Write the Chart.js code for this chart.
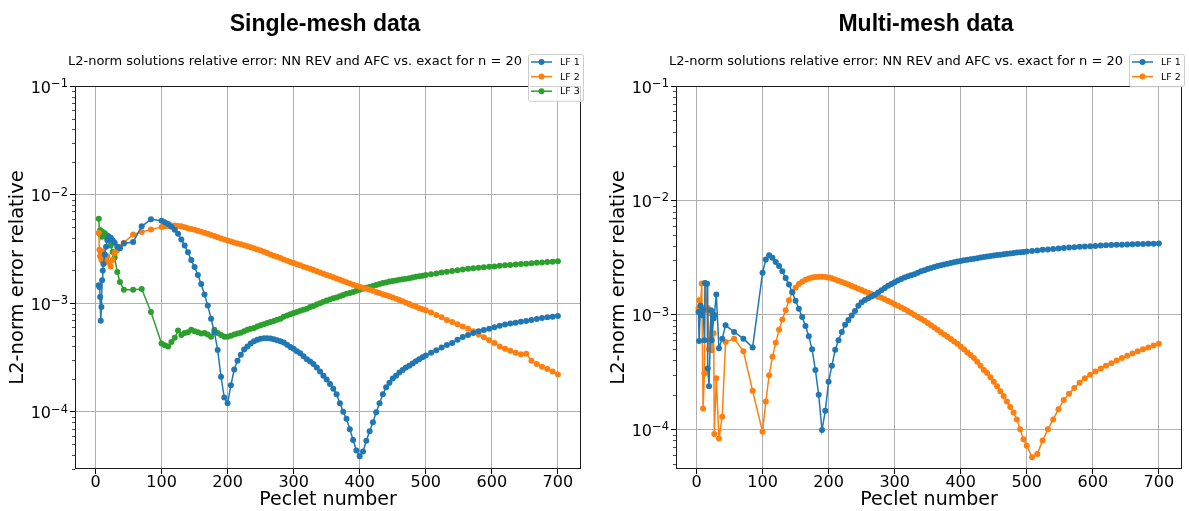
<!DOCTYPE html>
<html>
<head>
<meta charset="utf-8">
<title>L2-norm relative error vs Peclet number</title>
<script src="https://cdn.jsdelivr.net/npm/chart.js@4.4.1/dist/chart.umd.min.js"></script>
<style>
  html, body { margin: 0; padding: 0; background: #fff; }
  #wrap { position: relative; width: 1189px; height: 511px; overflow: hidden; }
  .panel { position: absolute; top: 0; }
</style>
</head>
<body>
<div id="wrap">
  <canvas id="single" class="panel" width="594" height="511" style="left:0"></canvas>
  <canvas id="multi" class="panel" width="588" height="511" style="left:601px"></canvas>
</div>
<script>
/* ---------------------------------------------------------------- */
/* DATA                                                              */
/* ---------------------------------------------------------------- */

    var xTicks  = [0, 100, 200, 300, 400, 500, 600, 700];
    var yDecades = [1e-5, 1e-4, 1e-3, 1e-2, 1e-1];
    var seriesLabels = ['LF 1', 'LF 2', 'LF 3'];
    var seriesColors = ['#1f77b4', '#ff7f0e', '#2ca02c'];

    // single-mesh runs
    var peSingle = [
        5, 6, 7, 8, 9, 10, 11, 12, 14, 16, 18, 20, 23, 26, 29, 33, 37, 43, 57, 70, 84,
        100, 105, 110, 115, 120, 125, 130, 135, 140, 145,
        150, 155, 160, 165, 170, 175, 180, 185, 190, 195,
        200, 205, 210, 215, 220, 225, 230, 235, 240, 245,
        250, 255, 260, 265, 270, 275, 280, 285, 290, 295,
        300, 305, 310, 315, 320, 325, 330, 335, 340, 345,
        350, 355, 360, 365, 370, 375, 380, 385, 390, 395,
        400, 405, 410, 415, 420, 425, 430, 435, 440, 445,
        450, 455, 460, 465, 470, 475, 480, 485, 490, 495,
        500, 508, 516, 524, 532, 540, 548, 556, 564, 572, 580,
        588, 596, 604, 612, 620, 628, 636, 644, 652, 660,
        668, 676, 684, 692, 700
    ];
    var errSingleLF1 = [
        1.46e-3, 1.41e-3, 1.14e-3, 6.9e-4, 9.2e-4, 1.63e-3, 2.0e-3, 2.3e-3, 2.8e-3, 3.3e-3, 3.8e-3, 4.1e-3, 4.0e-3, 3.8e-3, 3.6e-3, 3.3e-3, 3.2e-3, 3.54e-3, 3.66e-3, 5.1e-3, 5.93e-3,
        5.75e-3, 5.55e-3, 5.35e-3, 5.05e-3, 4.75e-3, 4.35e-3, 3.85e-3, 3.4e-3, 2.95e-3, 2.5e-3,
        2.15e-3, 1.82e-3, 1.5e-3, 1.2e-3, 9.5e-4, 7.2e-4, 5.4e-4, 3.7e-4, 2.1e-4, 1.35e-4,
        1.2e-4, 1.75e-4, 2.45e-4, 2.95e-4, 3.35e-4, 3.75e-4, 4.0e-4, 4.25e-4, 4.45e-4, 4.6e-4,
        4.7e-4, 4.75e-4, 4.75e-4, 4.72e-4, 4.65e-4, 4.55e-4, 4.45e-4, 4.35e-4, 4.15e-4, 3.95e-4,
        3.8e-4, 3.6e-4, 3.45e-4, 3.25e-4, 3.05e-4, 2.9e-4, 2.75e-4, 2.55e-4, 2.35e-4, 2.15e-4,
        1.98e-4, 1.8e-4, 1.63e-4, 1.45e-4, 1.2e-4, 1.0e-4, 8.6e-5, 6.9e-5, 5.5e-5, 4.4e-5,
        3.9e-5, 4.3e-5, 5.4e-5, 6.6e-5, 8.0e-5, 9.9e-5, 1.2e-4, 1.45e-4, 1.68e-4, 1.85e-4,
        2.02e-4, 2.15e-4, 2.3e-4, 2.42e-4, 2.55e-4, 2.65e-4, 2.78e-4, 2.92e-4, 3.05e-4, 3.18e-4,
        3.3e-4, 3.5e-4, 3.68e-4, 3.9e-4, 4.12e-4, 4.3e-4, 4.6e-4, 4.88e-4, 5.1e-4, 5.32e-4, 5.5e-4,
        5.65e-4, 5.8e-4, 6.0e-4, 6.2e-4, 6.35e-4, 6.5e-4, 6.6e-4, 6.75e-4, 6.86e-4, 7.0e-4,
        7.15e-4, 7.3e-4, 7.4e-4, 7.5e-4, 7.62e-4
    ];
    var errSingleLF2 = [
        4.46e-3, 3.1e-3, 2.7e-3, 2.9e-3, 2.5e-3, 3.0e-3, 2.6e-3, 2.4e-3, 2.7e-3, 2.5e-3, 2.7e-3, 2.35e-3, 2.18e-3, 2.5e-3, 2.9e-3, 3.07e-3, 3.3e-3, 3.61e-3, 4.29e-3, 4.53e-3, 4.76e-3,
        5.04e-3, 5.1e-3, 5.15e-3, 5.2e-3, 5.2e-3, 5.15e-3, 5.1e-3, 5.0e-3, 4.9e-3, 4.82e-3,
        4.75e-3, 4.65e-3, 4.55e-3, 4.45e-3, 4.35e-3, 4.25e-3, 4.15e-3, 4.05e-3, 3.95e-3, 3.85e-3,
        3.78e-3, 3.7e-3, 3.62e-3, 3.55e-3, 3.48e-3, 3.42e-3, 3.35e-3, 3.28e-3, 3.2e-3, 3.12e-3,
        3.05e-3, 2.97e-3, 2.89e-3, 2.81e-3, 2.74e-3, 2.67e-3, 2.6e-3, 2.53e-3, 2.46e-3, 2.4e-3,
        2.34e-3, 2.28e-3, 2.23e-3, 2.17e-3, 2.12e-3, 2.07e-3, 2.02e-3, 1.97e-3, 1.92e-3, 1.87e-3,
        1.82e-3, 1.78e-3, 1.73e-3, 1.69e-3, 1.64e-3, 1.6e-3, 1.56e-3, 1.52e-3, 1.48e-3, 1.45e-3,
        1.42e-3, 1.39e-3, 1.36e-3, 1.33e-3, 1.3e-3, 1.27e-3, 1.24e-3, 1.21e-3, 1.18e-3, 1.16e-3,
        1.13e-3, 1.1e-3, 1.07e-3, 1.04e-3, 1.01e-3, 9.8e-4, 9.5e-4, 9.3e-4, 9.0e-4, 8.8e-4,
        8.6e-4, 8.2e-4, 7.8e-4, 7.4e-4, 7.0e-4, 6.7e-4, 6.4e-4, 6.1e-4, 5.8e-4, 5.5e-4, 5.15e-4,
        4.85e-4, 4.55e-4, 4.3e-4, 4.0e-4, 3.8e-4, 3.65e-4, 3.5e-4, 3.38e-4, 3.43e-4, 2.95e-4,
        2.75e-4, 2.6e-4, 2.48e-4, 2.35e-4, 2.2e-4
    ];
    var errSingleLF3 = [
        6.0e-3, 4.4e-3, 4.7e-3, 4.3e-3, 4.6e-3, 4.1e-3, 4.5e-3, 4.3e-3, 4.4e-3, 4.1e-3, 4.2e-3, 3.9e-3, 3.4e-3, 2.96e-3, 2.63e-3, 1.94e-3, 1.57e-3, 1.33e-3, 1.33e-3, 1.35e-3, 8.3e-4,
        4.25e-4, 4.1e-4, 4.0e-4, 4.4e-4, 4.8e-4, 5.6e-4, 5.1e-4, 5.3e-4, 5.4e-4, 5.7e-4,
        5.5e-4, 5.4e-4, 5.25e-4, 5.3e-4, 5.15e-4, 4.9e-4, 5.7e-4, 5.3e-4, 5.1e-4, 4.9e-4,
        4.9e-4, 5.0e-4, 5.15e-4, 5.25e-4, 5.35e-4, 5.5e-4, 5.7e-4, 5.8e-4, 5.9e-4, 6.1e-4,
        6.27e-4, 6.4e-4, 6.55e-4, 6.7e-4, 6.85e-4, 7.05e-4, 7.2e-4, 7.5e-4, 7.7e-4, 7.9e-4,
        8.1e-4, 8.3e-4, 8.5e-4, 8.7e-4, 8.9e-4, 9.2e-4, 9.4e-4, 9.7e-4, 1.0e-3, 1.03e-3,
        1.06e-3, 1.08e-3, 1.11e-3, 1.13e-3, 1.16e-3, 1.19e-3, 1.22e-3, 1.24e-3, 1.27e-3, 1.3e-3,
        1.33e-3, 1.36e-3, 1.39e-3, 1.41e-3, 1.44e-3, 1.47e-3, 1.5e-3, 1.53e-3, 1.55e-3, 1.58e-3,
        1.6e-3, 1.62e-3, 1.64e-3, 1.66e-3, 1.68e-3, 1.7e-3, 1.72e-3, 1.75e-3, 1.77e-3, 1.79e-3,
        1.82e-3, 1.85e-3, 1.88e-3, 1.92e-3, 1.95e-3, 1.98e-3, 2.01e-3, 2.04e-3, 2.07e-3, 2.1e-3, 2.12e-3,
        2.14e-3, 2.16e-3, 2.18e-3, 2.21e-3, 2.23e-3, 2.25e-3, 2.27e-3, 2.29e-3, 2.31e-3, 2.33e-3,
        2.35e-3, 2.37e-3, 2.39e-3, 2.41e-3, 2.43e-3
    ];

    // multi-mesh runs
    var peMulti = [
        3, 4, 6, 8, 10, 12, 13, 16, 17, 19, 22, 23, 26, 27, 30, 34, 39, 44, 57, 71, 85,
        100, 105, 110, 115, 120, 125, 130, 135, 140, 145,
        150, 155, 160, 165, 170, 175, 180, 185, 190, 195,
        200, 205, 210, 215, 220, 225, 230, 235, 240, 245,
        250, 255, 260, 265, 270, 275, 280, 285, 290, 295,
        300, 305, 310, 315, 320, 325, 330, 335, 340, 345,
        350, 355, 360, 365, 370, 375, 380, 385, 390, 395,
        400, 405, 410, 415, 420, 425, 430, 435, 440, 445,
        450, 455, 460, 465, 470, 475, 480, 485, 490, 495,
        500, 508, 516, 524, 532, 540, 548, 556, 564, 572, 580,
        588, 596, 604, 612, 620, 628, 636, 644, 652, 660,
        668, 676, 684, 692, 700
    ];
    var errMultiLF1 = [
        1.06e-3, 5.9e-4, 1.2e-3, 1.0e-3, 1.11e-3, 6.0e-4, 1.9e-3, 1.87e-3, 3.4e-4, 2.38e-4, 1.1e-3, 6.0e-4, 9.3e-4, 1.0e-3, 1.51e-3, 5.1e-4, 6.2e-4, 8.1e-4, 7.1e-4, 6.2e-4, 5.2e-4,
        2.33e-3, 3.05e-3, 3.32e-3, 3.15e-3, 2.9e-3, 2.68e-3, 2.4e-3, 2.1e-3, 1.84e-3, 1.58e-3,
        1.33e-3, 1.13e-3, 9.6e-4, 8.0e-4, 6.5e-4, 5.0e-4, 3.3e-4, 2.0e-4, 9.84e-5, 1.45e-4,
        2.6e-4, 3.6e-4, 4.95e-4, 6.0e-4, 7.1e-4, 8.2e-4, 9.0e-4, 9.9e-4, 1.08e-3, 1.2e-3,
        1.29e-3, 1.35e-3, 1.4e-3, 1.45e-3, 1.5e-3, 1.57e-3, 1.64e-3, 1.72e-3, 1.8e-3, 1.86e-3,
        1.93e-3, 2.0e-3, 2.06e-3, 2.12e-3, 2.18e-3, 2.22e-3, 2.27e-3, 2.33e-3, 2.4e-3, 2.46e-3,
        2.52e-3, 2.57e-3, 2.62e-3, 2.67e-3, 2.72e-3, 2.76e-3, 2.8e-3, 2.84e-3, 2.88e-3, 2.93e-3,
        2.96e-3, 3.0e-3, 3.03e-3, 3.06e-3, 3.1e-3, 3.13e-3, 3.17e-3, 3.2e-3, 3.24e-3, 3.27e-3,
        3.3e-3, 3.33e-3, 3.36e-3, 3.39e-3, 3.42e-3, 3.44e-3, 3.47e-3, 3.5e-3, 3.53e-3, 3.55e-3,
        3.58e-3, 3.62e-3, 3.66e-3, 3.7e-3, 3.73e-3, 3.77e-3, 3.8e-3, 3.84e-3, 3.87e-3, 3.9e-3, 3.93e-3,
        3.95e-3, 3.98e-3, 4.0e-3, 4.03e-3, 4.05e-3, 4.07e-3, 4.09e-3, 4.11e-3, 4.13e-3, 4.15e-3,
        4.16e-3, 4.17e-3, 4.18e-3, 4.19e-3, 4.2e-3
    ];
    var errMultiLF2 = [
        1.14e-3, 1.34e-3, 1.2e-3, 1.88e-3, 1.52e-4, 3.08e-4, 1.88e-3, 1.1e-3, 1.15e-3, 5.0e-4, 1.03e-3, 4.92e-4, 6.9e-4, 9.1e-5, 2.79e-4, 8.3e-5, 1.29e-4, 5.8e-4, 6.2e-4, 4.8e-4, 2.17e-4,
        9.5e-5, 1.75e-4, 2.97e-4, 4.3e-4, 5.7e-4, 7.4e-4, 9.1e-4, 1.1e-3, 1.34e-3, 1.58e-3,
        1.73e-3, 1.86e-3, 1.95e-3, 2.03e-3, 2.08e-3, 2.12e-3, 2.14e-3, 2.15e-3, 2.15e-3, 2.14e-3,
        2.12e-3, 2.09e-3, 2.04e-3, 1.99e-3, 1.94e-3, 1.89e-3, 1.84e-3, 1.79e-3, 1.74e-3, 1.69e-3,
        1.65e-3, 1.6e-3, 1.56e-3, 1.52e-3, 1.48e-3, 1.44e-3, 1.41e-3, 1.37e-3, 1.32e-3, 1.28e-3,
        1.24e-3, 1.2e-3, 1.16e-3, 1.12e-3, 1.08e-3, 1.04e-3, 1.0e-3, 9.6e-4, 9.25e-4, 8.9e-4,
        8.5e-4, 8.1e-4, 7.75e-4, 7.4e-4, 7.05e-4, 6.75e-4, 6.45e-4, 6.15e-4, 5.85e-4, 5.6e-4,
        5.3e-4, 5.0e-4, 4.7e-4, 4.45e-4, 4.2e-4, 3.9e-4, 3.6e-4, 3.3e-4, 3.1e-4, 2.85e-4,
        2.6e-4, 2.38e-4, 2.15e-4, 1.95e-4, 1.75e-4, 1.57e-4, 1.4e-4, 1.22e-4, 1.0e-4, 8.2e-5,
        7.2e-5, 5.7e-5, 6.1e-5, 8.0e-5, 1.0e-4, 1.22e-4, 1.5e-4, 1.8e-4, 2.05e-4, 2.3e-4, 2.55e-4,
        2.8e-4, 3.0e-4, 3.2e-4, 3.4e-4, 3.6e-4, 3.78e-4, 4.0e-4, 4.2e-4, 4.4e-4, 4.6e-4,
        4.8e-4, 5.0e-4, 5.2e-4, 5.4e-4, 5.6e-4
    ];

/* ---------------------------------------------------------------- */
/* HELPERS                                                           */
/* ---------------------------------------------------------------- */

    var FONT = '"DejaVu Sans", sans-serif';

    function toPoints(xs, ys){
        return xs.map(function(x, i){ return { x: x, y: ys[i] }; });
    }

    function logTicks(scale){
        var ticks = [];
        yDecades.forEach(function(d){
            for(let m = 1; m <= 9; m++){
                var v = m * d;
                if(v >= scale.min * 0.9999 && v <= scale.max * 1.0001){
                    ticks.push({ value: v, major: m === 1 });
                }
            }
        });
        scale.ticks = ticks;
    }

    // frame, minor ticks, power labels, headings and legend box
    var decor = {
        id: 'decor',
        afterDraw: function(chart, args, opts){
            var ctx = chart.ctx, a = chart.chartArea;
            var cx = (a.left + a.right) / 2;
            var ys = chart.scales.y;
            ctx.save();

            // minor ticks on the log axis
            ctx.strokeStyle = '#000';
            ctx.lineWidth = 0.7;
            ys.ticks.forEach(function(t){
                if(t.major) return;
                var py = Math.round(ys.getPixelForValue(t.value)) + 0.5;
                ctx.beginPath();
                ctx.moveTo(a.left - 3, py);
                ctx.lineTo(a.left, py);
                ctx.stroke();
            });

            // decade labels as 10 with a raised exponent
            ctx.fillStyle = '#000';
            ctx.textAlign = 'left';
            ctx.textBaseline = 'alphabetic';
            ys.ticks.forEach(function(t){
                if(!t.major) return;
                var py = ys.getPixelForValue(t.value);
                var exp = '\u2212' + String(Math.abs(Math.round(Math.log10(t.value))));
                ctx.font = '16px ' + FONT;
                var wb = ctx.measureText('10').width;
                ctx.font = '11.5px ' + FONT;
                var we = ctx.measureText(exp).width;
                var x0 = a.left - 7 - wb - we;
                ctx.font = '16px ' + FONT;
                ctx.fillText('10', x0, py + 6.6);
                ctx.font = '11.5px ' + FONT;
                ctx.fillText(exp, x0 + wb, py + 1);
            });

            // axes frame
            ctx.strokeStyle = '#1a1a1a';
            ctx.lineWidth = 1;
            ctx.strokeRect(a.left + 0.5, a.top + 0.5, a.right - a.left - 1, a.bottom - a.top - 1);

            // headings
            ctx.fillStyle = '#000';
            ctx.textAlign = 'center';
            ctx.textBaseline = 'middle';
            ctx.font = 'bold 23px "Liberation Sans", Arial, sans-serif';
            ctx.fillText(opts.title, cx - 3, 25);
            ctx.font = '13px ' + FONT;
            ctx.fillText(opts.subtitle, cx - 33, 62);

            // legend
            var sets = chart.data.datasets;
            var rowH = 14.6, w = 55, h = rowH * sets.length + 3;
            var bx = a.right + 2 - w, by = 54;
            ctx.fillStyle = 'rgba(255,255,255,0.8)';
            ctx.strokeStyle = '#cccccc';
            ctx.lineWidth = 1;
            ctx.beginPath();
            ctx.roundRect(bx + 0.5, by + 0.5, w, h, 2);
            ctx.fill();
            ctx.stroke();
            ctx.textAlign = 'left';
            ctx.font = '9.5px ' + FONT;
            sets.forEach(function(ds, i){
                var ly = by + 8 + i * rowH;
                ctx.strokeStyle = ds.borderColor;
                ctx.lineWidth = 1.5;
                ctx.beginPath();
                ctx.moveTo(bx + 3, ly);
                ctx.lineTo(bx + 24, ly);
                ctx.stroke();
                ctx.fillStyle = ds.borderColor;
                ctx.beginPath();
                ctx.arc(bx + 13.5, ly, 3, 0, Math.PI * 2);
                ctx.fill();
                ctx.fillStyle = '#000';
                ctx.fillText(ds.label, bx + 32, ly + 0.5);
            });
            ctx.restore();
        }
    };

/* ---------------------------------------------------------------- */
/* CHARTS                                                            */
/* ---------------------------------------------------------------- */

    function makeChart(id, title, pe, series, yMin, padRight){
        var datasets = series.map(function(errs, i){
            return {
                label: seriesLabels[i],
                data: toPoints(pe, errs),
                borderColor: seriesColors[i],
                backgroundColor: seriesColors[i],
                pointBackgroundColor: seriesColors[i],
                borderWidth: 1.5,
                pointRadius: 3,
                pointHoverRadius: 3,
                pointBorderWidth: 0,
                tension: 0
            };
        });

        return new Chart(document.getElementById(id), {
            type: 'line',
            data: { datasets: datasets },
            options: {
                responsive: false,
                animation: false,
                devicePixelRatio: 1,
                layout: { padding: { left: 0, top: 86, right: padRight, bottom: 0 } },
                plugins: {
                    legend: { display: false },
                    tooltip: { enabled: false },
                    decor: {
                        title: title,
                        subtitle: 'L2-norm solutions relative error: NN REV and AFC vs. exact for n = 20'
                    }
                },
                scales: {
                    x: {
                        type: 'linear',
                        min: -31,
                        max: 735,
                        bounds: 'data',
                        afterBuildTicks: function(scale){
                            scale.ticks = xTicks.map(function(v){ return { value: v }; });
                        },
                        afterFit: function(scale){ scale.height = 42; },
                        border: { display: false },
                        grid: { color: '#b0b0b0', lineWidth: 1, tickLength: 5, tickColor: '#000' },
                        ticks: {
                            autoSkip: false,
                            maxRotation: 0,
                            padding: 1,
                            color: '#000',
                            font: { family: FONT, size: 16, lineHeight: 1 },
                            callback: function(v){ return String(v); }
                        },
                        title: {
                            display: true,
                            text: 'Peclet number',
                            color: '#000',
                            font: { family: FONT, size: 19 },
                            padding: { top: 0, bottom: 0 }
                        }
                    },
                    y: {
                        type: 'logarithmic',
                        min: yMin,
                        max: 0.1,
                        bounds: 'data',
                        afterBuildTicks: logTicks,
                        afterFit: function(scale){ scale.width = 75; },
                        border: { display: false },
                        grid: {
                            color: function(c){ return c.tick && c.tick.major ? '#b0b0b0' : 'rgba(0,0,0,0)'; },
                            tickColor: function(c){ return c.tick && c.tick.major ? '#000' : 'rgba(0,0,0,0)'; },
                            lineWidth: 1,
                            tickLength: 5
                        },
                        ticks: {
                            autoSkip: false,
                            padding: 2,
                            font: { family: FONT, size: 16, lineHeight: 1 },
                            callback: function(){ return ''; }
                        },
                        title: {
                            display: true,
                            text: 'L2-norm error relative',
                            color: '#000',
                            font: { family: FONT, size: 19.5 },
                            padding: { top: 6, bottom: 0 }
                        }
                    }
                }
            },
            plugins: [decor]
        });
    }

    makeChart('single', 'Single-mesh data', peSingle,
              [errSingleLF1, errSingleLF2, errSingleLF3], 2.97e-5, 13);
    makeChart('multi', 'Multi-mesh data', peMulti,
              [errMultiLF1, errMultiLF2], 4.5e-5, 7);
</script>
</body>
</html>
